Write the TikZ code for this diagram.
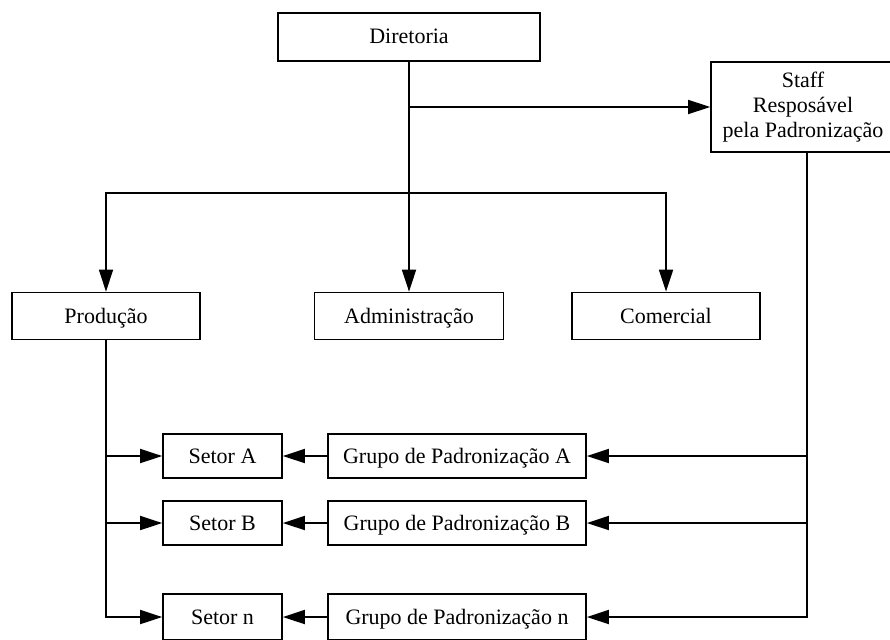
\documentclass[tikz,border=0pt]{standalone}
\usepackage{fontspec}
\setmainfont{Liberation Serif}
\usetikzlibrary{arrows.meta}
\begin{document}
\begin{tikzpicture}[x=1pt,y=-1pt,
  box/.style={draw, line width=1.7pt, inner sep=0pt, align=center,
              font=\fontsize{22}{25}\selectfont},
  unit/.style={box, text height=14pt, text depth=0pt},
  link/.style={line width=1.9pt},
  arr/.style={link, -{Triangle[length=22pt,width=14pt]}}]
\useasboundingbox (0,0) rectangle (890,639);

% top level
\node[unit, minimum width=262pt, minimum height=48pt] (dir) at (409,37) {Diretoria};
\node[box, minimum width=184pt, minimum height=90pt] (staff) at (803,107)
  {Staff\\Resposável\\pela Padronização};

% departments
\node[unit, minimum width=188pt, minimum height=47pt] (prod)  at (106,316) {Produção};
\node[unit, minimum width=189pt, minimum height=47pt] (admin) at (409,316) {Administração};
\node[unit, minimum width=188pt, minimum height=47pt] (com)   at (666,316) {Comercial};

% sectors
\node[unit, minimum width=119pt, minimum height=44pt] (sa) at (222.5,456) {Setor A};
\node[unit, minimum width=119pt, minimum height=44pt] (sb) at (222.5,523) {Setor B};
\node[unit, minimum width=119pt, minimum height=46pt] (sn) at (222.5,617) {Setor n};

% standardisation groups
\node[unit, minimum width=258pt, minimum height=44pt] (ga) at (457,456) {Grupo de Padronização A};
\node[unit, minimum width=258pt, minimum height=44pt] (gb) at (457,523) {Grupo de Padronização B};
\node[unit, minimum width=258pt, minimum height=46pt] (gn) at (457,617) {Grupo de Padronização n};

% connectors from the board
\coordinate (split) at (409,193);
\draw[arr] (dir.south) -- (admin.north);
\draw[arr] (dir.south |- staff.west) -- (staff.west);
\draw[arr] (split) -| (prod.north);
\draw[arr] (split) -| (com.north);

% production to its sectors
\draw[arr] (prod.south) |- (sn.west);
\draw[arr] (prod.south |- sa.west) -- (sa.west);
\draw[arr] (prod.south |- sb.west) -- (sb.west);

% staff to the groups
\coordinate (drop) at ([xshift=4pt]staff.south);
\draw[arr] (drop) |- (gn.east);
\draw[arr] (drop |- ga.east) -- (ga.east);
\draw[arr] (drop |- gb.east) -- (gb.east);

% groups to sectors
\draw[arr] (ga.west) -- (sa.east);
\draw[arr] (gb.west) -- (sb.east);
\draw[arr] (gn.west) -- (sn.east);
\end{tikzpicture}
\end{document}
